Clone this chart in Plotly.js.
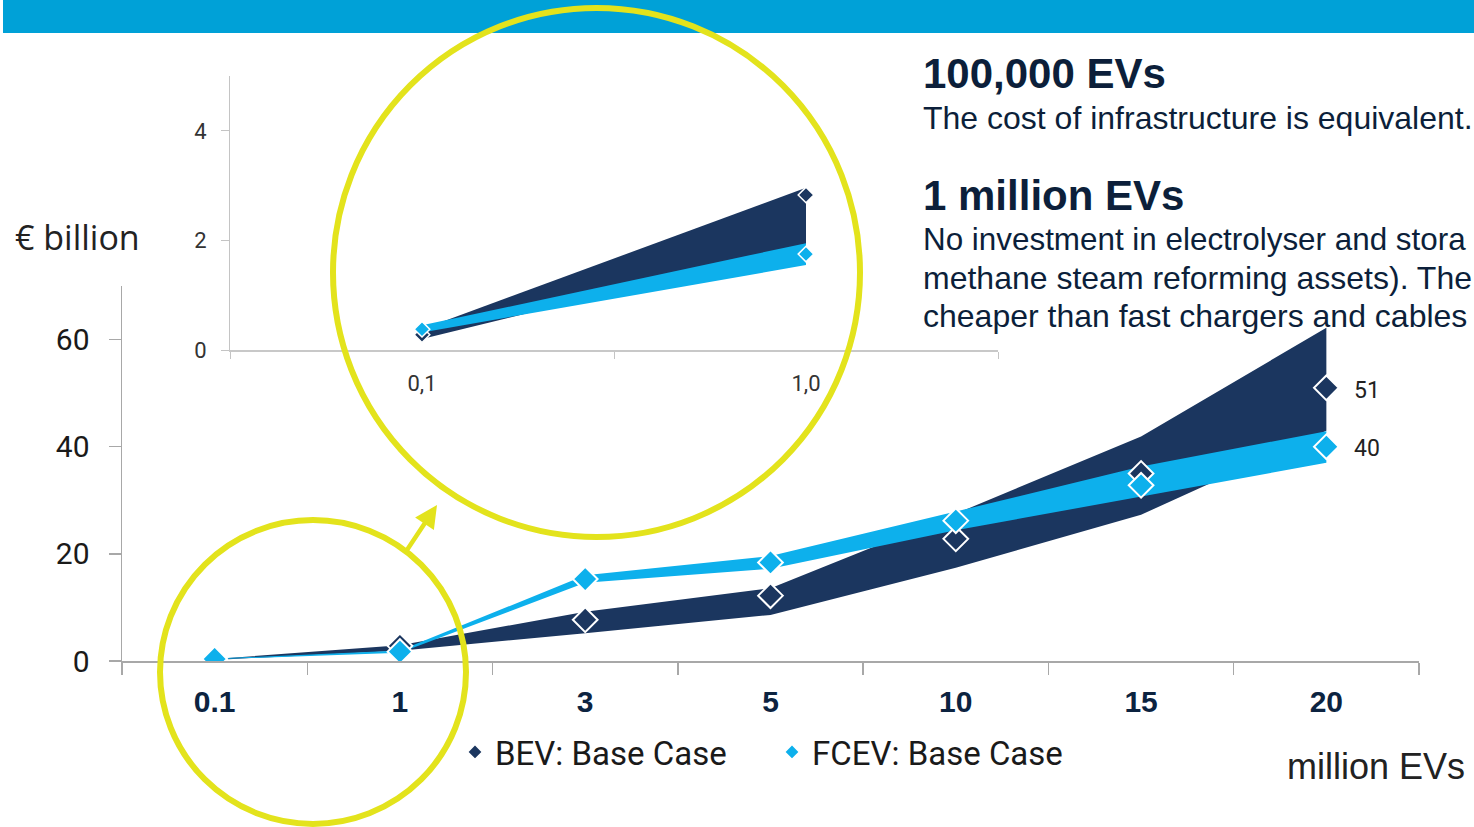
<!DOCTYPE html>
<html>
<head>
<meta charset="utf-8">
<script src="https://cdn.plot.ly/plotly-3.0.1.min.js"></script>
<style>
  html, body { margin: 0; padding: 0; background: #ffffff; }
  #chart { width: 1474px; height: 827px; }
</style>
</head>
<body>
<div id="chart"></div>
<script>
// Fleet size (million EVs) on the category axis
const categories = ['0.1', '1', '3', '5', '10', '15', '20'];

// BEV infrastructure cost, € billion: range band and base case
const bevLow  = [0.20, 1.92, 5.2, 8.6, 17.4, 27.3, 43.0];
const bevHigh = [0.38, 2.96, 9.2, 13.6, 27.5, 41.9, 62.2];
const bevBase = [0.28, 2.83, 7.7, 12.2, 22.8, 35.0, 51];

// FCEV infrastructure cost, € billion: range band and base case
const fcevLow  = [0.32, 1.55, 14.6, 17.2, 24.4, 30.7, 37.0];
const fcevHigh = [0.45, 1.95, 16.0, 19.6, 27.9, 36.3, 42.9];
const fcevBase = [0.38, 1.75, 15.3, 18.4, 26.2, 32.8, 40];

// Zoomed view of the first two fleet sizes
const insetCount = 2;
const insetTickText = ['0,1', '1,0'];

const yTicks = [0, 20, 40, 60];
const insetYTicks = [0, 2, 4];

const NAVY = '#1b365f';
const CYAN = '#0db0ec';
const YELLOW = '#e3e31c';
const W = 1474, H = 827;
const px = v => v / W;           // pixel -> paper x
const py = v => 1 - v / H;       // pixel -> paper y

function band(x, lo, hi, color, xa, ya) {
  return [
    { x: x, y: lo, type: 'scatter', mode: 'lines', line: { width: 0, color: color },
      showlegend: false, hoverinfo: 'skip', xaxis: xa, yaxis: ya },
    { x: x, y: hi, type: 'scatter', mode: 'lines', line: { width: 0, color: color },
      fill: 'tonexty', fillcolor: color, showlegend: false, hoverinfo: 'skip', xaxis: xa, yaxis: ya }
  ];
}
function markers(x, y, color, name, size, lw, xa, ya, legend) {
  return { x: x, y: y, type: 'scatter', mode: 'markers', name: name,
    marker: { symbol: 'diamond', size: size, color: color, line: { color: '#ffffff', width: lw } },
    showlegend: legend, xaxis: xa, yaxis: ya };
}

const ic = categories.slice(0, insetCount);
const data = [].concat(
  band(categories, bevLow, bevHigh, NAVY, 'x', 'y'),
  band(categories, fcevLow, fcevHigh, CYAN, 'x', 'y'),
  [markers(categories, bevBase, NAVY, 'BEV: Base Case', 19, 2, 'x', 'y', true),
   markers(categories, fcevBase, CYAN, 'FCEV: Base Case', 19, 2, 'x', 'y', true)],
  band(ic, bevLow.slice(0, insetCount), bevHigh.slice(0, insetCount), NAVY, 'x2', 'y2'),
  band(ic, fcevLow.slice(0, insetCount), fcevHigh.slice(0, insetCount), CYAN, 'x2', 'y2'),
  [markers(ic, bevBase.slice(0, insetCount), NAVY, 'BEV', 12, 1.5, 'x2', 'y2', false),
   markers(ic, fcevBase.slice(0, insetCount), CYAN, 'FCEV', 12, 1.5, 'x2', 'y2', false)]
);

const DIN = 'Roboto, "DejaVu Sans", sans-serif';
const ARIAL = '"Liberation Sans", Arial, sans-serif';
const TEXT = '#0c1f3a';

const last = categories.length - 1;
const annotations = [
  // end-of-line values (x given as category index)
  { x: last, y: bevBase[last], xref: 'x', yref: 'y', text: String(bevBase[last]),
    showarrow: false, xanchor: 'left', xshift: 26, yshift: -3, font: { family: DIN, size: 23, color: '#222' } },
  { x: last, y: fcevBase[last], xref: 'x', yref: 'y', text: String(fcevBase[last]),
    showarrow: false, xanchor: 'left', xshift: 26, yshift: -2, font: { family: DIN, size: 23, color: '#222' } },
  // axis captions
  { x: px(13), y: py(237), xref: 'paper', yref: 'paper', text: '€ billion', showarrow: false,
    xanchor: 'left', yanchor: 'middle', font: { family: '"Open Sans", sans-serif', size: 34, color: '#222' } },
  { x: px(1285), y: py(766), xref: 'paper', yref: 'paper', text: 'million EVs', showarrow: false,
    xanchor: 'left', yanchor: 'middle', font: { family: ARIAL, size: 36, color: '#222' } },
  // pointer from the small circle to the zoomed view
  { x: px(437), y: py(505), xref: 'paper', yref: 'paper', text: '', showarrow: true,
    ax: -32, ay: 48, arrowhead: 2, arrowsize: 1, arrowwidth: 4.5, arrowcolor: YELLOW, standoff: 0 }
];

// commentary block on the right
const notes = [
  { t: '<b>100,000 EVs</b>', y: 73, s: 42 },
  { t: 'The cost of infrastructure is equivalent.', y: 118, s: 32 },
  { t: '<b>1 million EVs</b>', y: 195, s: 42 },
  { t: 'No investment in electrolyser and stora', y: 239, s: 31.4 },
  { t: 'methane steam reforming assets). The', y: 278, s: 32 },
  { t: 'cheaper than fast chargers and cables', y: 316, s: 32 }
];
notes.forEach(n => annotations.push({
  x: px(922), y: py(n.y), xref: 'paper', yref: 'paper', text: n.t, showarrow: false,
  xanchor: 'left', yanchor: 'middle', align: 'left', borderpad: 0,
  font: { family: ARIAL, size: n.s, color: TEXT }
}));

const shapes = [
  { type: 'rect', xref: 'paper', yref: 'paper', x0: px(3), x1: 1, y0: py(33), y1: 1,
    fillcolor: '#00a1d7', line: { width: 0 }, layer: 'below' },
  { type: 'circle', xref: 'paper', yref: 'paper', x0: px(333), x1: px(860), y0: py(537), y1: py(8),
    line: { color: YELLOW, width: 6 } },
  { type: 'circle', xref: 'paper', yref: 'paper', x0: px(160), x1: px(466), y0: py(824), y1: py(520),
    line: { color: YELLOW, width: 6 } }
];

const layout = {
  width: W, height: H,
  margin: { l: 0, r: 0, t: 0, b: 0 },
  paper_bgcolor: '#ffffff', plot_bgcolor: 'rgba(0,0,0,0)',
  showlegend: true,
  legend: {
    orientation: 'h', traceorder: 'normal', x: px(455), xanchor: 'left', y: py(752), yanchor: 'middle',
    itemsizing: 'constant', entrywidth: 272, entrywidthmode: 'pixels',
    font: { family: DIN, size: 33, color: '#1a1a1a' }, bgcolor: 'rgba(0,0,0,0)'
  },
  xaxis: {
    domain: [px(122), px(1419)], anchor: 'y', type: 'category', range: [-0.5, categories.length - 0.5],
    tickson: 'boundaries', ticks: 'outside', ticklen: 12, tickcolor: '#a8a8a8', tickwidth: 1.5,
    showline: true, linecolor: '#a8a8a8', linewidth: 1.5, showgrid: false, zeroline: false,
    tickfont: { family: ARIAL, size: 30, color: '#0c2340', weight: 700 }, ticklabelstandoff: 13,
    fixedrange: true
  },
  yaxis: {
    domain: [py(661), py(286)], anchor: 'x', range: [0, 70], tickvals: yTicks,
    ticks: 'outside', ticklen: 12, tickcolor: '#a8a8a8', tickwidth: 1.5,
    showline: true, linecolor: '#a8a8a8', linewidth: 1.5, showgrid: false, zeroline: false,
    tickfont: { family: DIN, size: 30, color: '#1a1a1a' }, ticklabelstandoff: 13,
    fixedrange: true
  },
  xaxis2: {
    domain: [px(230), px(998)], anchor: 'y2', type: 'category', range: [-0.5, insetCount - 0.5],
    tickvals: ic, ticktext: insetTickText,
    tickson: 'boundaries', ticks: 'outside', ticklen: 7, tickcolor: '#c4c4c4',
    showline: true, linecolor: '#c8c8c8', linewidth: 2, showgrid: false, zeroline: false,
    tickfont: { family: DIN, size: 22, color: '#333' }, ticklabelstandoff: 13,
    fixedrange: true
  },
  yaxis2: {
    domain: [py(350), py(76)], anchor: 'x2', range: [0, 5], tickvals: insetYTicks,
    ticks: 'outside', ticklen: 8, tickcolor: '#c4c4c4',
    showline: true, linecolor: '#c4c4c4', linewidth: 1, showgrid: false, zeroline: false,
    tickfont: { family: DIN, size: 22, color: '#333' }, ticklabelstandoff: 10,
    fixedrange: true
  },
  annotations: annotations,
  shapes: shapes
};

Plotly.newPlot('chart', data, layout, { displayModeBar: false, staticPlot: true });
</script>
</body>
</html>
